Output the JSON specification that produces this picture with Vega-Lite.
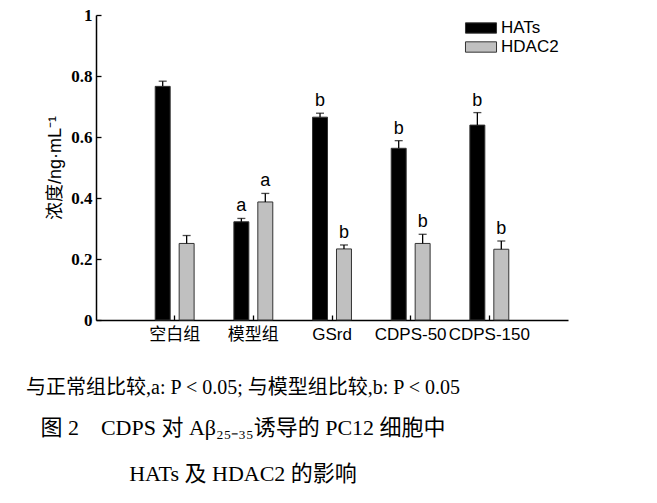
{
  "$schema": "https://vega.github.io/schema/vega-lite/v6.json",
  "width": 472,
  "height": 305,
  "autosize": {"type": "none"},
  "padding": {"left": 96, "top": 15, "right": 89, "bottom": 183},
  "background": "white",
  "data": {
    "values": [
      {"group": "空白组", "series": "HATs", "value": 0.766, "upper": 0.783, "sig": ""},
      {"group": "空白组", "series": "HDAC2", "value": 0.251, "upper": 0.277, "sig": ""},
      {"group": "模型组", "series": "HATs", "value": 0.322, "upper": 0.333, "sig": "a"},
      {"group": "模型组", "series": "HDAC2", "value": 0.387, "upper": 0.415, "sig": "a"},
      {"group": "GSrd", "series": "HATs", "value": 0.665, "upper": 0.678, "sig": "b"},
      {"group": "GSrd", "series": "HDAC2", "value": 0.233, "upper": 0.246, "sig": "b"},
      {"group": "CDPS-50", "series": "HATs", "value": 0.563, "upper": 0.588, "sig": "b"},
      {"group": "CDPS-50", "series": "HDAC2", "value": 0.251, "upper": 0.281, "sig": "b"},
      {"group": "CDPS-150", "series": "HATs", "value": 0.639, "upper": 0.680, "sig": "b"},
      {"group": "CDPS-150", "series": "HDAC2", "value": 0.232, "upper": 0.259, "sig": "b"}
    ]
  },
  "title": {
    "text": "与正常组比较,a: P < 0.05; 与模型组比较,b: P < 0.05",
    "subtitle": ["图 2\u00a0\u00a0\u00a0\u00a0CDPS 对 Aβ₂₅₋₃₅诱导的 PC12 细胞中", "HATs 及 HDAC2 的影响"],
    "orient": "bottom",
    "anchor": "middle",
    "frame": "group",
    "dx": -89,
    "offset": 36,
    "font": "Liberation Serif, Noto Sans CJK SC",
    "fontSize": 20,
    "fontWeight": "normal",
    "color": "#000000",
    "subtitleFont": "Liberation Serif, Noto Sans CJK SC",
    "subtitleFontSize": 22,
    "subtitleColor": "#000000",
    "subtitleLineHeight": 46,
    "subtitlePadding": 20
  },
  "encoding": {
    "x": {
      "field": "group",
      "type": "nominal",
      "sort": ["空白组", "模型组", "GSrd", "CDPS-50", "CDPS-150"],
      "scale": {"paddingInner": 0, "paddingOuter": 0.5},
      "axis": {
        "title": null,
        "labelAngle": 0,
        "labelFont": "Liberation Sans, Noto Sans CJK SC",
        "labelFontSize": 17,
        "labelColor": "#000000",
        "labelPadding": 11,
        "tickSize": -5,
        "tickColor": "#000000",
        "tickWidth": 1.3,
        "domainColor": "#000000",
        "domainWidth": 1.5
      }
    },
    "xOffset": {
      "field": "series",
      "type": "nominal",
      "scale": {"paddingInner": 0.375, "paddingOuter": 0.83}
    }
  },
  "layer": [
    {
      "mark": {"type": "bar", "stroke": "#333333", "strokeWidth": 1},
      "encoding": {
        "y": {
          "field": "value",
          "type": "quantitative",
          "scale": {"domain": [0, 1], "nice": false},
          "axis": {
            "title": "浓度/ng·mL⁻¹",
            "titleFont": "Liberation Sans, Noto Sans CJK SC",
            "titleFontSize": 18,
            "titleFontWeight": "normal",
            "titleColor": "#000000",
            "titlePadding": 6,
            "values": [0, 0.2, 0.4, 0.6, 0.8, 1],
            "format": "~g",
            "labelFont": "Liberation Serif",
            "labelFontSize": 17,
            "labelFontWeight": "bold",
            "labelColor": "#000000",
            "labelPadding": 9,
            "tickSize": -5,
            "tickColor": "#000000",
            "tickWidth": 1.3,
            "domainColor": "#000000",
            "domainWidth": 1.5
          }
        },
        "color": {
          "field": "series",
          "type": "nominal",
          "scale": {"domain": ["HATs", "HDAC2"], "range": ["#000000", "#c0c0c0"]},
          "legend": {
            "title": null,
            "orient": "none",
            "legendX": 374,
            "legendY": 2,
            "padding": 0,
            "symbolType": "M-1.5,-0.5h3v1h-3z",
            "symbolSize": 428,
            "symbolStrokeColor": "#333333",
            "symbolStrokeWidth": 1,
            "symbolOpacity": 1,
            "labelFont": "Liberation Sans",
            "labelFontSize": 17,
            "labelColor": "#000000",
            "labelOffset": 9,
            "rowPadding": 0
          }
        }
      }
    },
    {
      "mark": {"type": "rule", "color": "#000000", "strokeWidth": 1.3},
      "encoding": {
        "y": {"field": "value", "type": "quantitative"},
        "y2": {"field": "upper"}
      }
    },
    {
      "mark": {"type": "tick", "orient": "horizontal", "color": "#000000", "size": 8, "thickness": 1.3},
      "encoding": {
        "y": {"field": "upper", "type": "quantitative"}
      }
    },
    {
      "mark": {"type": "text", "baseline": "bottom", "dy": -3, "font": "Liberation Sans", "fontSize": 18, "color": "#000000"},
      "encoding": {
        "y": {"field": "upper", "type": "quantitative"},
        "text": {"field": "sig"}
      }
    }
  ],
  "config": {
    "view": {"stroke": null},
    "axis": {"grid": false}
  }
}
